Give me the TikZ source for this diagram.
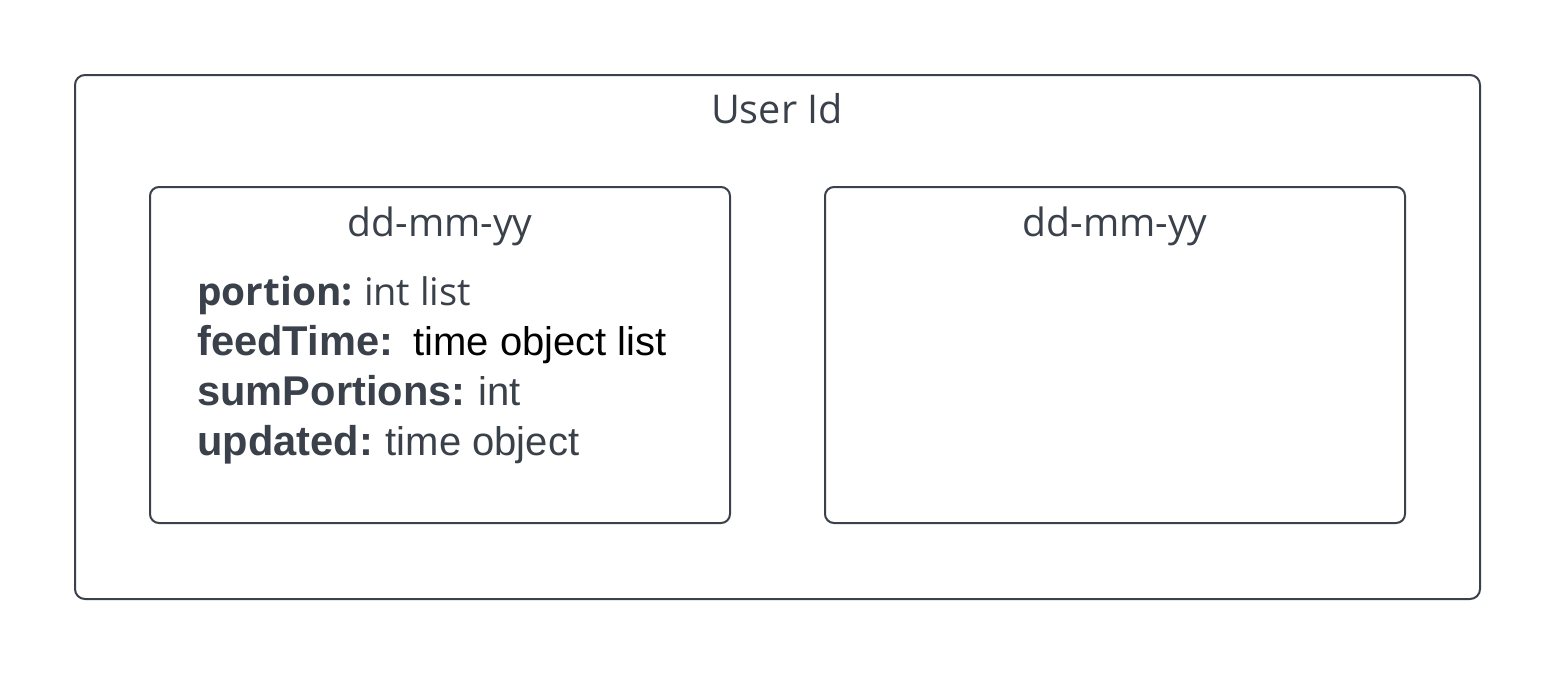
\documentclass[tikz,border=0pt]{standalone}
\usepackage{fontspec}
\setmainfont{Liberation Sans}
\newfontfamily\osans{Open Sans}
\definecolor{lucidgray}{HTML}{3A414A}
\begin{document}
\begin{tikzpicture}[x=0.5pt,y=-0.5pt,
  boxstyle/.style={draw=lucidgray,line width=1pt,rounded corners=5pt},
  titletext/.style={text=lucidgray,font=\osans\fontsize{19.5}{24}\selectfont,inner sep=0pt,anchor=base},
  fieldtext/.style={text=lucidgray,font=\fontsize{20}{25}\selectfont,inner sep=0pt,anchor=base west}]
\useasboundingbox (0,0) rectangle (1556,675);
\fill[white] (0,0) rectangle (1556,675);
\draw[boxstyle] (75,75) rectangle (1480,599);
\draw[boxstyle,rounded corners=4.5pt] (150,187) rectangle (730,523);
\draw[boxstyle,rounded corners=4.5pt] (825,187) rectangle (1405,523);
\node[titletext,font=\osans\fontsize{19.8}{24}\selectfont] (uid) at (777,123) {User Id};
\node[titletext] (d1) at (440,236) {dd-mm-yy};
\node[titletext] (d2) at (1115,236) {dd-mm-yy};
\node[fieldtext,font=\osans\fontsize{19}{25}\selectfont] (f1) at (197,305) {{\fontsize{19.4}{25}\selectfont\bfseries portion:}\hspace{-1pt} int list};
\node[fieldtext] (f2) at (197,355) {{\fontsize{20.8}{25}\selectfont\bfseries feedTime:}\hspace{-1pt}\ \ \textcolor{black}{time object list}};
\node[fieldtext] (f3) at (197,405) {{\fontsize{20.8}{25}\selectfont\bfseries sumPortions:}\hspace{-1pt} int};
\node[fieldtext] (f4) at (197,455) {{\fontsize{20.8}{25}\selectfont\bfseries updated:}\hspace{-1pt} time object};
\end{tikzpicture}
\end{document}
